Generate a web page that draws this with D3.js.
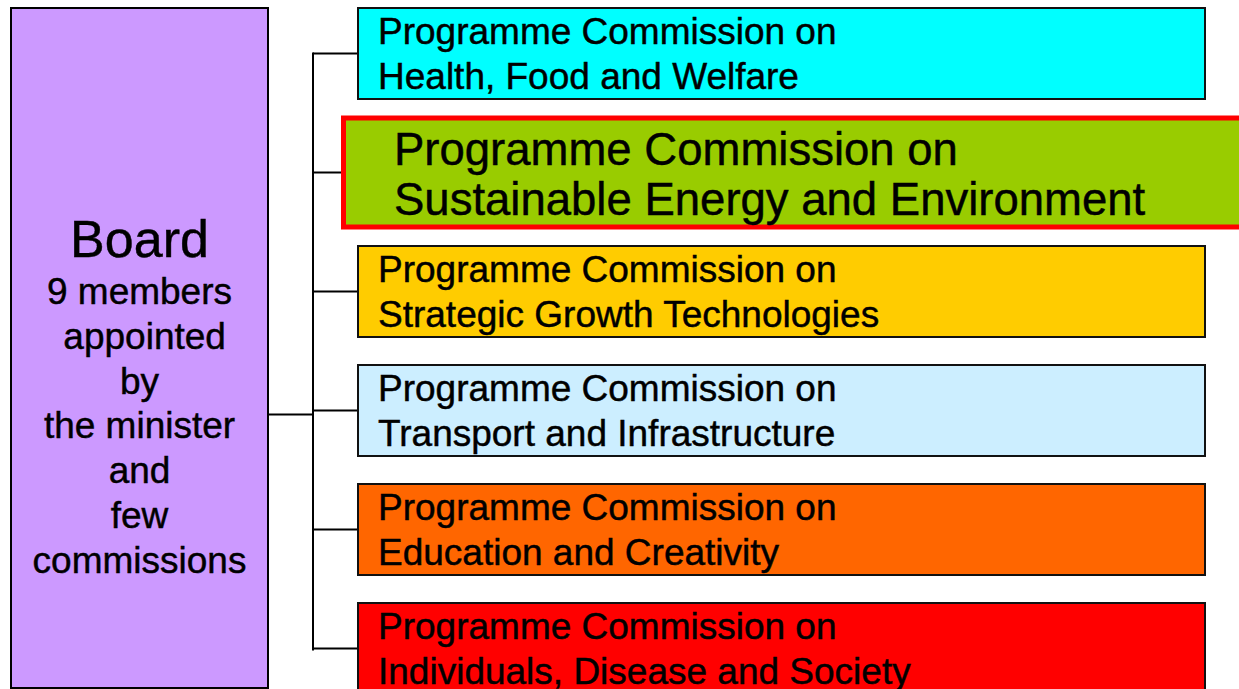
<!DOCTYPE html>
<html>
<head>
<meta charset="utf-8">
<script src="https://cdn.jsdelivr.net/npm/d3@7"></script>
<style>
  body { margin: 0; background: #fff; }
  svg { display: block; font-family: "Liberation Sans", Arial, sans-serif; }
  text { white-space: pre; fill: #000; stroke: #000; stroke-width: 0.45px; }
</style>
</head>
<body>
<script>
// commissions, top to bottom
var commissionLine1 = ["Programme Commission on", "Programme Commission on", "Programme Commission on",
                       "Programme Commission on", "Programme Commission on", "Programme Commission on"];
var commissionLine2 = ["Health, Food and Welfare", "Sustainable Energy and Environment", "Strategic Growth Technologies",
                       "Transport and Infrastructure", "Education and Creativity", "Individuals, Disease and Society"];
var commissionColors = ["#00ffff", "#99cc00", "#ffcc00", "#cceeff", "#ff6600", "#ff0000"];
var highlighted = [false, true, false, false, false, false];

var boardTitle = "Board";
var boardLines = ["9 members", " appointed", "by", "the minister", "and", "few", "commissions"];
var boardColor = "#cc99ff";

var width = 1239, height = 689;

var svg = d3.select("body").append("svg").attr("width", width).attr("height", height);

var rows = d3.range(commissionLine2.length);

var y = d3.scaleBand()
          .domain(rows)
          .range([8, 694])
          .paddingInner(28 / 119)
          .paddingOuter(0);

var boxX = 358, boxW = 847;
var trunkX = 313;

//board box
var board = {x: 11, y: 8, w: 257, h: 680};
svg.append("rect")
   .attr("x", board.x).attr("y", board.y)
   .attr("width", board.w).attr("height", board.h)
   .attr("fill", boardColor).attr("stroke", "#000").attr("stroke-width", 2);

var cx = board.x + board.w / 2;
svg.append("text")
   .attr("x", cx).attr("y", 257)
   .attr("text-anchor", "middle")
   .style("font-size", "52px")
   .text(boardTitle);

svg.selectAll("text.board-line")
   .data(boardLines)
   .enter().append("text")
   .attr("class", "board-line")
   .attr("x", cx)
   .attr("y", function(d, i){ return 304 + i * 44.8; })
   .attr("text-anchor", "middle")
   .style("font-size", "37px")
   .text(function(d){ return d; });

//connectors
var mid = function(i){ return y(i) + y.bandwidth() / 2; };
var lines = svg.append("g").attr("stroke", "#000").attr("stroke-width", 2).attr("fill", "none");

lines.append("line")
     .attr("x1", trunkX).attr("x2", trunkX)
     .attr("y1", mid(0) - 1).attr("y2", mid(rows.length - 1) + 2);

lines.selectAll("line.branch")
     .data(rows)
     .enter().append("line")
     .attr("class", "branch")
     .attr("x1", trunkX).attr("x2", function(d){ return highlighted[d] ? 341 : boxX; })
     .attr("y1", mid).attr("y2", mid);

lines.append("line")
     .attr("x1", board.x + board.w).attr("x2", trunkX)
     .attr("y1", mid(3) + 4).attr("y2", mid(3) + 4);

//commission boxes
var boxes = svg.selectAll("g.commission")
               .data(rows)
               .enter().append("g")
               .attr("class", "commission");

boxes.append("rect")
     .attr("x", function(d){ return highlighted[d] ? 343.5 : boxX; })
     .attr("y", function(d){ return highlighted[d] ? mid(d) - 54.5 : y(d); })
     .attr("width", function(d){ return highlighted[d] ? 910 : boxW; })
     .attr("height", function(d){ return highlighted[d] ? 109 : y.bandwidth(); })
     .attr("fill", function(d){ return commissionColors[d]; })
     .attr("stroke", function(d){ return highlighted[d] ? "#ff0000" : "#111"; })
     .attr("stroke-width", function(d){ return highlighted[d] ? 5 : 2; });

boxes.append("text")
     .attr("x", function(d){ return highlighted[d] ? 394 : 378; })
     .attr("y", function(d){ return highlighted[d] ? mid(d) - 8 : y(d) + 36; })
     .style("font-size", function(d){ return highlighted[d] ? "45.5px" : "37px"; })
     .text(function(d){ return commissionLine1[d]; });

boxes.append("text")
     .attr("x", function(d){ return highlighted[d] ? 394 : 378; })
     .attr("y", function(d){ return highlighted[d] ? mid(d) + 42 : y(d) + 80.5; })
     .style("font-size", function(d){ return highlighted[d] ? "45.5px" : "37px"; })
     .text(function(d){ return commissionLine2[d]; });
</script>
</body>
</html>
